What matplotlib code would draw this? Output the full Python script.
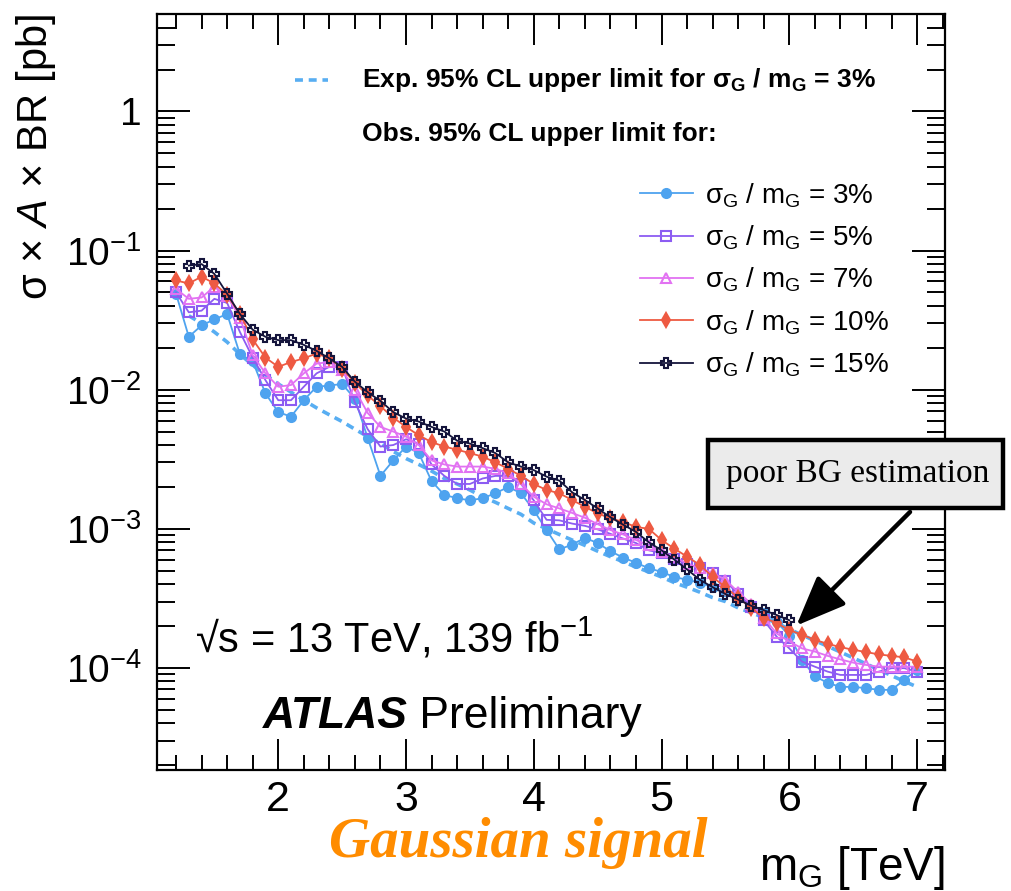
import numpy as np
import matplotlib
matplotlib.use('Agg')
import matplotlib.pyplot as plt
from matplotlib.lines import Line2D
from matplotlib.patches import Rectangle
from matplotlib.ticker import FixedLocator, LogLocator, MultipleLocator, FuncFormatter, NullFormatter

plt.rcParams['font.family'] = ['Liberation Sans', 'DejaVu Sans']
plt.rcParams['mathtext.fontset'] = 'custom'
plt.rcParams['mathtext.rm'] = 'Liberation Sans'
plt.rcParams['mathtext.it'] = 'Liberation Sans:italic'
plt.rcParams['mathtext.bf'] = 'Liberation Sans:bold'

# resonance mass grid [TeV]
mass = np.round(np.arange(12, 71) * 0.1, 1)        # 1.2 ... 7.0
mass_15 = np.round(np.arange(13, 61) * 0.1, 1)     # 1.3 ... 6.0
mass_exp = np.round(np.arange(13, 71) * 0.1, 1)    # 1.3 ... 7.0

# expected limit, sigma_G/m_G = 3%  [pb]
exp_3 = [0.034, 0.030, 0.026, 0.022, 0.018, 0.015, 0.0128, 0.0110, 0.0096,
         0.0084, 0.0074, 0.0066, 0.0059, 0.0052, 0.0046, 0.0041, 0.0036, 0.0032, 0.0029,
         0.0026, 0.0023, 0.0021, 0.0019, 0.0017, 0.00155, 0.0014, 0.00127, 0.0011, 0.0010,
         0.00091, 0.00083, 0.00076, 0.00069, 0.00063, 0.00058, 0.00053, 0.00049, 0.00045, 0.00041,
         0.00038, 0.00035, 0.00032, 0.0003, 0.00027, 0.00025, 0.00023, 0.00021, 0.00019, 0.000172,
         0.000157, 0.000143, 0.00013, 0.000118, 0.000107, 0.000097, 0.000088, 0.00008, 0.000073]

# observed limits [pb]
obs_3 = [0.049, 0.024, 0.029, 0.032, 0.035, 0.018, 0.016, 0.0094, 0.0069, 0.0064,
         0.0084, 0.0105, 0.0107, 0.011, 0.0086, 0.0045, 0.0024, 0.0031, 0.0039, 0.0035,
         0.0022, 0.00175, 0.00166, 0.0016, 0.00166, 0.0018, 0.0020, 0.0018, 0.00136, 0.00098,
         0.00071, 0.00077, 0.00086, 0.00079, 0.00069, 0.00062, 0.00057, 0.00052, 0.00049, 0.00045,
         0.00043, 0.00041, 0.00038, 0.00036, 0.00033, 0.00028, 0.00025, 0.000215, 0.00017, 0.000114,
         8.7e-5, 7.8e-5, 7.3e-5, 7.3e-5, 7.15e-5, 6.95e-5, 6.95e-5, 8.2e-5, 9.7e-5]
obs_5 = [0.050, 0.036, 0.037, 0.045, 0.042, 0.026, 0.017, 0.0117, 0.0084, 0.0084,
         0.0105, 0.0131, 0.0146, 0.0146, 0.0081, 0.0052, 0.0039, 0.0040, 0.0044, 0.0041,
         0.0029, 0.0024, 0.0021, 0.0021, 0.0023, 0.0024, 0.0024, 0.0021, 0.0016, 0.00116,
         0.00115, 0.00109, 0.00105, 0.00099, 0.00092, 0.00085, 0.00079, 0.00070, 0.00067, 0.00061,
         0.00056, 0.00052, 0.00048, 0.00042, 0.00034, 0.000276, 0.00022, 0.000168, 0.000138, 0.000111,
         0.000102, 9.4e-5, 8.9e-5, 8.9e-5, 8.9e-5, 9.4e-5, 9.95e-5, 9.95e-5, 9.4e-5]
obs_7 = [0.053, 0.045, 0.046, 0.055, 0.047, 0.033, 0.0177, 0.0131, 0.0105, 0.0108,
         0.0131, 0.0154, 0.0158, 0.0138, 0.0100, 0.0068, 0.0054, 0.0050, 0.0046, 0.0040,
         0.0031, 0.0029, 0.0028, 0.0028, 0.0028, 0.0027, 0.0025, 0.0021, 0.0017, 0.0015,
         0.0014, 0.0013, 0.0012, 0.00108, 0.00098, 0.00091, 0.00083, 0.00076, 0.00068, 0.00063,
         0.00056, 0.00052, 0.00048, 0.00043, 0.00035, 0.00029, 0.00023, 0.000177, 0.000155, 0.000138,
         0.000131, 0.000122, 0.000115, 0.000109, 0.000105, 0.000102, 0.000102, 0.000102, 0.000102]
obs_10 = [0.061, 0.058, 0.065, 0.058, 0.048, 0.035, 0.023, 0.017, 0.0146, 0.0158,
          0.0168, 0.0182, 0.0168, 0.0142, 0.0112, 0.0091, 0.0076, 0.0063, 0.0054, 0.0047,
          0.0042, 0.0039, 0.0037, 0.0035, 0.0033, 0.0030, 0.0027, 0.0024, 0.0021, 0.0019,
          0.0018, 0.00161, 0.00144, 0.00129, 0.00119, 0.00112, 0.00103, 0.00100, 0.00083, 0.00072,
          0.00063, 0.00055, 0.00045, 0.00038, 0.00032, 0.00027, 0.00023, 0.00021, 0.000187, 0.000173,
          0.000159, 0.000149, 0.000141, 0.000135, 0.00013, 0.000125, 0.000122, 0.000119, 0.000111]
obs_15 = [0.078, 0.080, 0.068, 0.049, 0.035, 0.027, 0.024, 0.0227, 0.0227,
          0.021, 0.019, 0.0168, 0.0146, 0.0114, 0.0096, 0.0083, 0.0069, 0.0062, 0.0059,
          0.0054, 0.0050, 0.0043, 0.0041, 0.0038, 0.0035, 0.0030, 0.0028, 0.00264, 0.00237,
          0.00222, 0.00183, 0.00161, 0.0014, 0.00121, 0.00107, 0.00095, 0.0008, 0.0007, 0.0006,
          0.00051, 0.00043, 0.00038, 0.00034, 0.00031, 0.00028, 0.00026, 0.00024, 0.00022]

widths = ['3%', '5%', '7%', '10%', '15%']
colors = ['#4ea3ef', '#8c5cf2', '#e272f2', '#ee5a42', '#15153c']
markers = ['o', 's', '^', 'd', 'P']
fills = [True, False, False, True, False]

fig = plt.figure(figsize=(10.12, 8.91), dpi=100)
ax = fig.add_axes([0.155, 0.136, 0.779, 0.848])
ax.set_yscale('log')

ax.plot(mass_exp, exp_3, ls=(0, (2.2, 1.6)), lw=2.6, color='#58aef2', zorder=2)

handles = []
series = [(mass, obs_3), (mass, obs_5), (mass, obs_7), (mass, obs_10), (mass_15, obs_15)]
for (xs, ys), w, c, mk, filled in zip(series, widths, colors, markers, fills):
    h, = ax.plot(xs, ys, color=c, lw=1.3, marker=mk, ms=6.5 if mk != 'd' else 7,
                 mfc=c if filled else 'none', mec=c, mew=1.5, zorder=3,
                 label=r'σ$_{\mathregular{G}}$ / m$_{\mathregular{G}}$ = ' + w)
    handles.append(h)

ax.set_xlim(1.05, 7.22)
ax.set_ylim(1.85e-5, 5.0)

ax.xaxis.set_major_locator(MultipleLocator(1))
ax.xaxis.set_minor_locator(MultipleLocator(0.2))
ax.yaxis.set_major_locator(FixedLocator([1e-4, 1e-3, 1e-2, 1e-1, 1]))
ax.yaxis.set_minor_locator(LogLocator(base=10, subs=np.arange(2, 10)))
ax.yaxis.set_minor_formatter(NullFormatter())


def ylab(v, pos):
    e = int(round(np.log10(v)))
    if e == 0:
        return '1'
    return r'$\mathregular{10^{%d}}$' % e


ax.yaxis.set_major_formatter(FuncFormatter(ylab))
ax.tick_params(which='both', direction='in', top=True, right=True, width=1.4)
ax.tick_params(axis='x', which='major', length=22, pad=7, labelsize=31)
ax.tick_params(axis='x', which='minor', length=11)
ax.tick_params(axis='y', which='major', length=24, pad=11, labelsize=28)
ax.tick_params(axis='y', which='minor', length=13)
for s in ax.spines.values():
    s.set_linewidth(1.6)

ax.set_ylabel(r'σ × $\mathit{A}$ × BR [pb]', fontsize=30, loc='top')
ax.yaxis.set_label_coords(-0.125, 1.0)
ax.set_xlabel(r'm$_{\mathregular{G}}$ [TeV]', fontsize=33, loc='right')
ax.xaxis.set_label_coords(1.0, -0.098)

# legend block
fig.add_artist(Line2D([295 / 1012, 328 / 1012], [1 - 80 / 891, 1 - 80 / 891], ls=(0, (2.2, 1.6)),
                      lw=2.6, color='#58aef2', transform=fig.transFigure))
fig.text(362 / 1012, 1 - 80 / 891,
         r'Exp. 95% CL upper limit for σ$_{\mathregular{G}}$ / m$_{\mathregular{G}}$ = 3%',
         fontsize=19, fontweight='bold', va='center')
fig.text(362 / 1012, 1 - 134 / 891, 'Obs. 95% CL upper limit for:',
         fontsize=19, fontweight='bold', va='center')
fig.legend(handles=handles, loc='upper left', bbox_to_anchor=(640 / 1012, 1 - 181 / 891),
           frameon=False, fontsize=20, handlelength=1.9, handletextpad=0.43,
           labelspacing=0.5, borderpad=0, borderaxespad=0, numpoints=1)

ax.text(0.048, 0.174, '√s = 13 TeV, 139 fb$^{\\mathregular{-1}}$',
        transform=ax.transAxes, fontsize=30, va='center')
t1 = ax.text(0.134, 0.07, 'ATLAS', transform=ax.transAxes, fontsize=32,
             fontweight='bold', style='italic', va='center')
ax.annotate(' Preliminary', xy=(1, 0.5), xycoords=t1, fontsize=32, va='center')

fig.text(518 / 1012, 1 - 843 / 891, 'Gaussian signal', color='#ff8c00', fontsize=41,
         fontweight='bold', style='italic', family='Liberation Serif', ha='center', va='center')

# note on the high-mass background
fig.add_artist(Rectangle((708 / 1012, 1 - 508 / 891), 295 / 1012, 68 / 891,
                         transform=fig.transFigure, facecolor='#ebebeb',
                         edgecolor='black', lw=3.2, zorder=5))
fig.text(858 / 1012, 1 - 474 / 891, 'poor BG estimation', family='Liberation Serif',
         fontsize=24, ha='center', va='center', zorder=6)
ax.annotate('', xy=(6.04, 1.95e-4), xycoords='data',
            xytext=(912 / 1012, 1 - 510 / 891), textcoords='figure fraction',
            arrowprops=dict(arrowstyle='-|>,head_length=1.1,head_width=0.45',
                            mutation_scale=28, lw=3.2, color='black'),
            annotation_clip=False, zorder=6)

fig.savefig('out.png', dpi=100)
